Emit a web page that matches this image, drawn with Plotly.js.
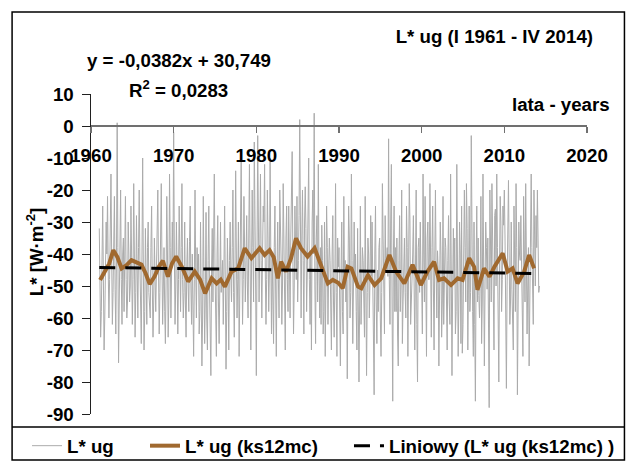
<!DOCTYPE html>
<html><head><meta charset="utf-8">
<script src="https://cdn.plot.ly/plotly-3.0.1.min.js"></script>
<style>html,body{margin:0;padding:0;background:#fff}#chart{width:627px;height:461px}</style>
</head><body><div id="chart"></div>
<script>
// Monthly L* ug values [W·m-2], Jan 1961 - Apr 2014
const ug1961_1970 = [
 -32,-50,-66,-58,-40,-25,-48,-70,-60,-45,-30,-40,
 -22,-45,-60,-48,-28,-15,-40,-62,-52,-35,-22,-51,
 -65,-40,1,-38,-74,-55,-30,-20,-48,-62,-40,-35,
 -58,-42,-22,-48,-60,-55,-30,-40,-55,-50,-25,-41,
 -62,-48,-18,-40,-66,-52,-28,-45,-60,-38,-20,-43,
 -55,-68,-40,-10,-45,-70,-58,-32,-48,-62,-38,-30,
 -52,-60,-60,-38,-25,-50,-66,-55,-35,-48,-58,-45,
 -30,-20,-45,-65,-52,-35,-18,-42,-62,-50,-38,-58,
 -68,-48,-22,-40,-66,-55,-15,-38,-60,-45,-30,-42,
 -2,-40,-62,-50,-30,-45,-65,-48,-25,-40,-58,-38
];
const ug1971_1980 = [
 -18,-48,-60,-52,-30,-55,-66,-45,-35,-50,-58,-36,
 -25,-50,-62,-40,-58,-72,-48,-20,-45,-60,-38,-47,
 -40,-65,-58,-30,-55,-75,-60,-22,-48,-68,-52,-27,
 -60,-70,-42,-25,-50,-66,-78,-45,-32,-55,-38,-15,
 -45,-62,-72,-40,-28,-55,-68,-50,-30,-52,-44,-42,
 -62,-45,-25,-50,-76,-58,-35,-48,-70,-42,-30,-47,
 -55,-38,-20,-52,-66,-45,-14,-40,-60,-48,-30,-72,
 -50,-35,-10,-40,-62,-48,-22,-38,-55,-42,-28,-50,
 -60,-35,-12,-42,-70,-45,-20,-38,-55,-5,-48,-50,
 -78,-52,-3,-30,-55,-38,-15,-42,-60,-40,-25,-30
];
const ug1981_1990 = [
 -12,-45,-62,-48,-20,-35,-58,-45,-10,-40,-65,-40,
 -55,-68,-38,-25,-50,-72,-45,-30,-48,-60,-20,-29,
 -42,-62,-50,-18,-40,-55,-70,-35,-25,-48,-58,-25,
 -45,-60,-35,-20,-8,-40,-65,-50,-25,-38,-48,-22,
 -55,-42,-28,2,-48,-60,-35,-20,-42,-65,-30,-19,
 -32,-58,-45,-25,-10,-48,-62,-40,-70,-30,-20,-40,
 4,-50,-68,-35,-28,-55,-12,-45,-60,-38,-62,-31,
 -42,-65,-58,-30,-72,-50,-25,-38,-62,-45,-35,-42,
 -60,-70,-40,-28,-55,-66,-48,-18,-52,-72,-35,-44,
 -38,-62,-75,-45,-30,-58,-65,-22,-50,-42,-55,-46
];
const ug1991_2000 = [
 -79,-48,-25,-35,-60,-52,-15,-42,-68,-50,-30,-48,
 -40,-58,-70,-32,-48,-80,-55,-25,-62,-50,-38,-42,
 -55,-66,-22,-45,-78,-52,-35,-40,-60,-48,-28,-47,
 -30,-48,-62,-84,-40,-25,-55,-68,-45,-58,-38,-35,
 -60,-72,-52,-18,-35,-50,-65,-28,-45,-42,-38,-47,
 -4,-48,-62,-30,-12,-55,-86,-40,-25,-58,-38,-58,
 -35,-65,-75,-42,-28,-58,-50,-20,-68,-55,-45,-35,
 -52,-60,-25,-38,-72,-48,-18,-30,-62,-55,-40,-40,
 -28,-58,-70,-45,-20,-62,-80,-38,-35,-52,-30,-46,
 -50,-65,-15,-40,-55,-22,-60,-72,-35,-30,-48,-48
];
const ug2001_2014 = [
 -18,-55,-66,-38,-25,-50,-70,-42,-20,-45,-60,-39,
 -45,-75,-58,-30,-40,-66,-55,-22,-62,-50,-35,-38,
 -60,-70,-42,-28,-55,-62,-15,-48,-78,-50,-32,-48,
 -35,-65,-58,-12,-45,-72,-55,-30,-40,-68,-25,-71,
 -62,-48,-20,-38,-55,-18,-32,-70,-50,-25,-58,-52,
 -3,-40,-58,-72,-30,-62,-86,-45,-25,-55,-35,-53,
 -60,-48,-22,-68,-55,-15,-40,-75,-50,-30,-38,-51,
 -35,-65,-88,-20,-42,-55,-18,-45,-60,-70,-28,-26,
 -50,-15,-38,-62,-80,-45,-22,-30,-58,-48,-25,-31,
 -20,-35,-58,-82,-50,-28,-17,-40,-62,-55,-30,-51,
 -62,-70,-25,-45,-58,-18,-38,-84,-52,-30,-40,-42,
 -28,-45,-60,-72,-22,-35,-55,-18,-40,-65,-50,-38,
 -75,-48,-30,-15,-38,-55,-62,-20,-45,-50,-28,-38,
 -20,-35,-52,-50
];
const startYear = 1961;

// 12-month moving average (ks12mc)
const smoothYears = [1961.1,1961.6,1962.2,1962.7,1963.2,1963.7,1964.3,1964.9,1965.5,1966.1,1966.6,1967.1,1967.7,1968.2,1968.7,1969.3,1969.8,1970.3,1971.0,1971.75,1972.55,1973.2,1973.8,1974.6,1975.2,1975.7,1976.2,1977.0,1977.8,1978.6,1979.4,1980.4,1981.0,1981.6,1982.1,1982.6,1983.0,1983.6,1984.2,1984.8,1985.4,1986.2,1987.05,1987.65,1988.2,1988.65,1989.25,1989.9,1990.45,1991.05,1991.5,1992.3,1992.7,1993.5,1994.3,1995.1,1996.1,1996.9,1997.9,1998.9,1999.9,2000.7,2001.5,2002.1,2002.7,2003.55,2004.35,2004.95,2005.75,2006.35,2006.75,2007.55,2008.2,2008.8,2009.8,2010.4,2011.0,2011.6,2012.4,2013.0,2013.6];
const smoothValues = [-48.1,-46,-43,-38.8,-41,-44.5,-43.5,-41.9,-42.5,-43.3,-46,-49.4,-47,-44,-42.1,-47.1,-43,-40.8,-44,-48.6,-45.5,-48,-52.3,-47.6,-49.2,-48,-50.2,-45.5,-44.5,-38.2,-41.3,-38.2,-40.3,-38.8,-41,-47.6,-42.4,-45.5,-41.3,-35.1,-38.2,-40.8,-38.2,-42.4,-46,-49.2,-48.1,-49,-50.7,-44.0,-44.5,-50.2,-50.7,-46.6,-49.7,-47.6,-40.3,-45.5,-49.2,-43.4,-49.7,-45.5,-42.4,-48.1,-47.6,-49.7,-47.6,-48.1,-41.3,-44.0,-51.2,-44.5,-47.1,-44.0,-39.8,-45.5,-44.5,-49.2,-45.5,-40.3,-44.5];

// Linear trend of the moving average
const trendYears = [1961.0, 2014.25];
const trendValues = [-44.2, -46.1];

// Axis ticks
const xTickVals = [1960,1970,1980,1990,2000,2010,2020];
const xTickText = ['1960','1970','1980','1990','2000','2010','2020'];
const yTickVals = [10,0,-10,-20,-30,-40,-50,-60,-70,-80,-90];
const yTickText = ['10','0','-10','-20','-30','-40','-50','-60','-70','-80','-90'];

const seriesNames = ['L* ug', 'L* ug (ks12mc)', 'Liniowy (L* ug (ks12mc) )'];
const chartTitle = 'L* ug (I 1961 - IV 2014)';
const equationText = 'y = -0,0382x + 30,749';
const r2Text = 'R<sup>2</sup> = 0,0283';
const xAxisLabel = 'lata - years';
const yAxisLabel = 'L* [W·m<sup>-2</sup>]';

const ugValues = [].concat(ug1961_1970, ug1971_1980, ug1981_1990, ug1991_2000, ug2001_2014);
const ugX = ugValues.map((v, i) => startYear + i / 12);

const FONT = 'Liberation Sans, Arial, sans-serif';
const FS = 18.7;
const bold = (size) => ({family: FONT, size: size, color: '#000', weight: 'bold'});

const traces = [
  {x: ugX, y: ugValues, type: 'scatter', mode: 'lines', name: seriesNames[0], legend: 'legend',
   line: {color: '#ababab', width: 1}},
  {x: smoothYears, y: smoothValues, type: 'scatter', mode: 'lines', name: seriesNames[1], legend: 'legend2',
   line: {color: '#a0692f', width: 4}},
  {x: trendYears, y: trendValues, type: 'scatter', mode: 'lines', name: seriesNames[2], legend: 'legend3',
   line: {color: '#000000', width: 3, dash: '16px,10px'}}
];

const legendBase = (xc) => ({orientation: 'h', xref: 'container', yref: 'container', x: xc, xanchor: 'left',
  y: 0.0325, yanchor: 'middle', font: bold(FS), bgcolor: 'rgba(0,0,0,0)', borderwidth: 0});

const layout = {
  width: 627, height: 461,
  margin: {l: 91, r: 39.5, t: 94, b: 47, pad: 0, autoexpand: false},
  paper_bgcolor: '#fff', plot_bgcolor: '#fff',
  showlegend: true,
  title: {text: chartTitle, font: bold(FS), xref: 'container', x: 0.9458, xanchor: 'right',
          yref: 'container', y: 0.92, yanchor: 'middle'},
  xaxis: {range: [1960, 2020], anchor: 'free', position: 0.9,
          tickvals: xTickVals, ticktext: xTickText, ticks: 'outside', ticklen: 6, tickwidth: 1.5,
          tickcolor: '#707070', showline: true, linecolor: '#707070', linewidth: 2,
          showgrid: false, zeroline: false, tickfont: bold(FS), ticklabelstandoff: 7},
  yaxis: {range: [-90, 10], domain: [0, 1],
          tickvals: yTickVals, ticktext: yTickText, ticks: 'outside', ticklen: 8, tickwidth: 1,
          tickcolor: '#202020', showline: true, linecolor: '#202020', linewidth: 1.5,
          showgrid: false, zeroline: false, tickfont: bold(FS), ticklabelstandoff: 4},
  legend: legendBase(0.0431),
  legend2: legendBase(0.2313),
  legend3: legendBase(0.5566),
  annotations: [
    {text: equationText, xref: 'paper', yref: 'paper', x: 0.1766, y: 1.106, showarrow: false,
     xanchor: 'center', yanchor: 'middle', font: bold(FS)},
    {text: r2Text, xref: 'paper', yref: 'paper', x: 0.1766, y: 1.0156, showarrow: false,
     xanchor: 'center', yanchor: 'middle', font: bold(FS)},
    {text: xAxisLabel, xref: 'paper', yref: 'paper', x: 1.0514, y: 0.968, showarrow: false,
     xanchor: 'right', yanchor: 'middle', font: bold(FS)},
    {text: yAxisLabel, xref: 'paper', yref: 'paper', x: -0.1128, y: 0.506, showarrow: false,
     textangle: -90, xanchor: 'center', yanchor: 'middle', font: bold(FS)}
  ],
  shapes: [
    {type: 'rect', xref: 'paper', yref: 'paper', x0: -0.1591, x1: 1.0755, y0: -0.144, y1: 1.256,
     line: {color: '#000', width: 1.5}, fillcolor: 'rgba(0,0,0,0)', layer: 'below'},
    {type: 'line', xref: 'paper', yref: 'paper', x0: -0.1591, x1: 1.0755, y0: -0.0406, y1: -0.0406,
     line: {color: '#000', width: 1.5}}
  ]
};

Plotly.newPlot('chart', traces, layout, {staticPlot: true, displayModeBar: false});
</script></body></html>
